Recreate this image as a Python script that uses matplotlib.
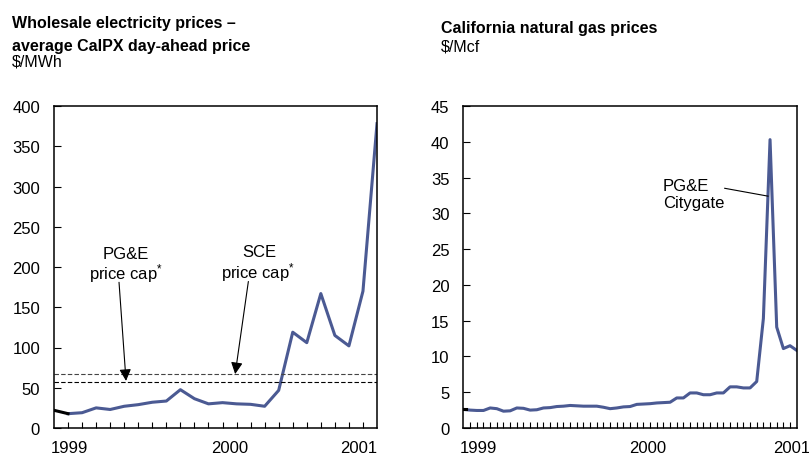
import matplotlib
matplotlib.use('Agg')
import matplotlib.pyplot as plt

plt.rcParams['font.family'] = ['Liberation Sans', 'DejaVu Sans']
plt.rcParams['mathtext.default'] = 'regular'

W, H = 809, 456
BLUE = '#4B5A93'

# left panel: monthly CalPX day-ahead price, $/MWh
elec_price = [22, 17.8, 19, 25, 23, 27, 29, 32, 33.5, 47.6, 36.4, 30,
              31.5, 30, 29.4, 27, 46.8, 119, 106, 167, 115, 102, 170, 378]
elec_year_labels = ['1999', '2000', '2001']
elec_year_pos = [1.1, 12.5, 21.7]
pge_cap = 57
sce_cap = 67

# right panel: semi-monthly PG&E Citygate gas price, $/Mcf
gas_price = [2.6, 2.5, 2.45, 2.45, 2.8, 2.7, 2.35, 2.4, 2.8, 2.75,
             2.5, 2.55, 2.8, 2.85, 3.0, 3.05, 3.15, 3.1, 3.05, 3.05,
             3.05, 2.9, 2.7, 2.8, 2.95, 3.0, 3.3, 3.35, 3.4, 3.5,
             3.55, 3.6, 4.2, 4.2, 4.9, 4.9, 4.65, 4.65, 4.9, 4.9,
             5.75, 5.75, 5.6, 5.6, 6.5, 15.3, 40.3, 14.1, 11.1, 11.5, 10.85]
gas_year_labels = ['1999', '2000', '2001']
gas_year_pos = [2.25, 27.6, 49.2]

fig = plt.figure(figsize=(W / 100, H / 100), dpi=100)


def px_axes(x0, x1, y0, y1):
    return fig.add_axes([x0 / W, 1 - y1 / H, (x1 - x0) / W, (y1 - y0) / H])


def style(ax, n, year_pos, year_labels):
    for s in ax.spines.values():
        s.set_linewidth(1.1)
    ax.set_xlim(0, n)
    ax.set_xticks(year_pos)
    ax.set_xticklabels(year_labels, fontsize=12)
    ax.set_xticks(range(1, n), minor=True)
    ax.tick_params(axis='x', which='major', length=0, pad=8.5)
    ax.tick_params(axis='x', which='minor', direction='in', length=4, width=0.8)
    ax.tick_params(axis='y', direction='in', length=5, width=0.8, pad=10, labelsize=12)


# ---- electricity ----
ax1 = px_axes(54, 377, 107, 429)
n1 = len(elec_price) - 1
ax1.plot(range(1, len(elec_price)), elec_price[1:], color=BLUE, lw=2.2)
ax1.plot([0, 1], elec_price[:2], color='black', lw=2.2)
ax1.axhline(pge_cap, color='black', lw=0.8, ls=(0, (4, 2)))
ax1.axhline(sce_cap, color='#444444', lw=0.8, ls=(0, (4, 2)))
ax1.set_ylim(0, 400)
ax1.set_yticks(range(0, 401, 50))
style(ax1, n1, elec_year_pos, elec_year_labels)

arrow = dict(arrowstyle='-|>,head_width=0.35,head_length=0.7', color='black', lw=0.8,
             shrinkA=0, shrinkB=0)
ax1.annotate('', xy=(5.13, pge_cap + 1.5), xytext=(4.63, 181), arrowprops=arrow)
ax1.annotate('', xy=(12.9, sce_cap), xytext=(13.84, 182), arrowprops=arrow)
ax1.text(5.1, 217, 'PG&E', ha='center', va='center', fontsize=12)
ax1.text(5.1, 192.5, 'price cap$^{*}$', ha='center', va='center', fontsize=12)
ax1.text(14.6, 219, 'SCE', ha='center', va='center', fontsize=12)
ax1.text(14.5, 194, 'price cap$^{*}$', ha='center', va='center', fontsize=12)

# ---- natural gas ----
ax2 = px_axes(463.5, 796.7, 107, 429)
n2 = len(gas_price) - 1
ax2.plot(range(0, len(gas_price)), gas_price, color=BLUE, lw=2.2)
ax2.plot([0, 0.4], [gas_price[0], gas_price[0]], color='black', lw=2.2)
ax2.set_ylim(0, 45)
ax2.set_yticks(range(0, 46, 5))
style(ax2, n2, gas_year_pos, gas_year_labels)
ax2.plot([39.2, 45.7], [33.5, 32.4], color='black', lw=0.8)
ax2.text(29.9, 32.7, 'PG&E\nCitygate', ha='left', va='center', fontsize=12,
         linespacing=1.2)

# ---- titles ----
def ftext(x, y, s, **kw):
    fig.text(x / W, 1 - y / H, s, va='baseline', ha='left', **kw)


ftext(12, 28, 'Wholesale electricity prices \u2013', fontsize=11.5, fontweight='bold')
ftext(12, 50.5, 'average CalPX day-ahead price', fontsize=11.5, fontweight='bold')
ftext(12, 66, '$/MWh', fontsize=11.5)
ftext(441, 33.3, 'California natural gas prices', fontsize=11.5, fontweight='bold')
ftext(441, 51.7, '$/Mcf', fontsize=11.5)

fig.savefig('out.png', dpi=100)
